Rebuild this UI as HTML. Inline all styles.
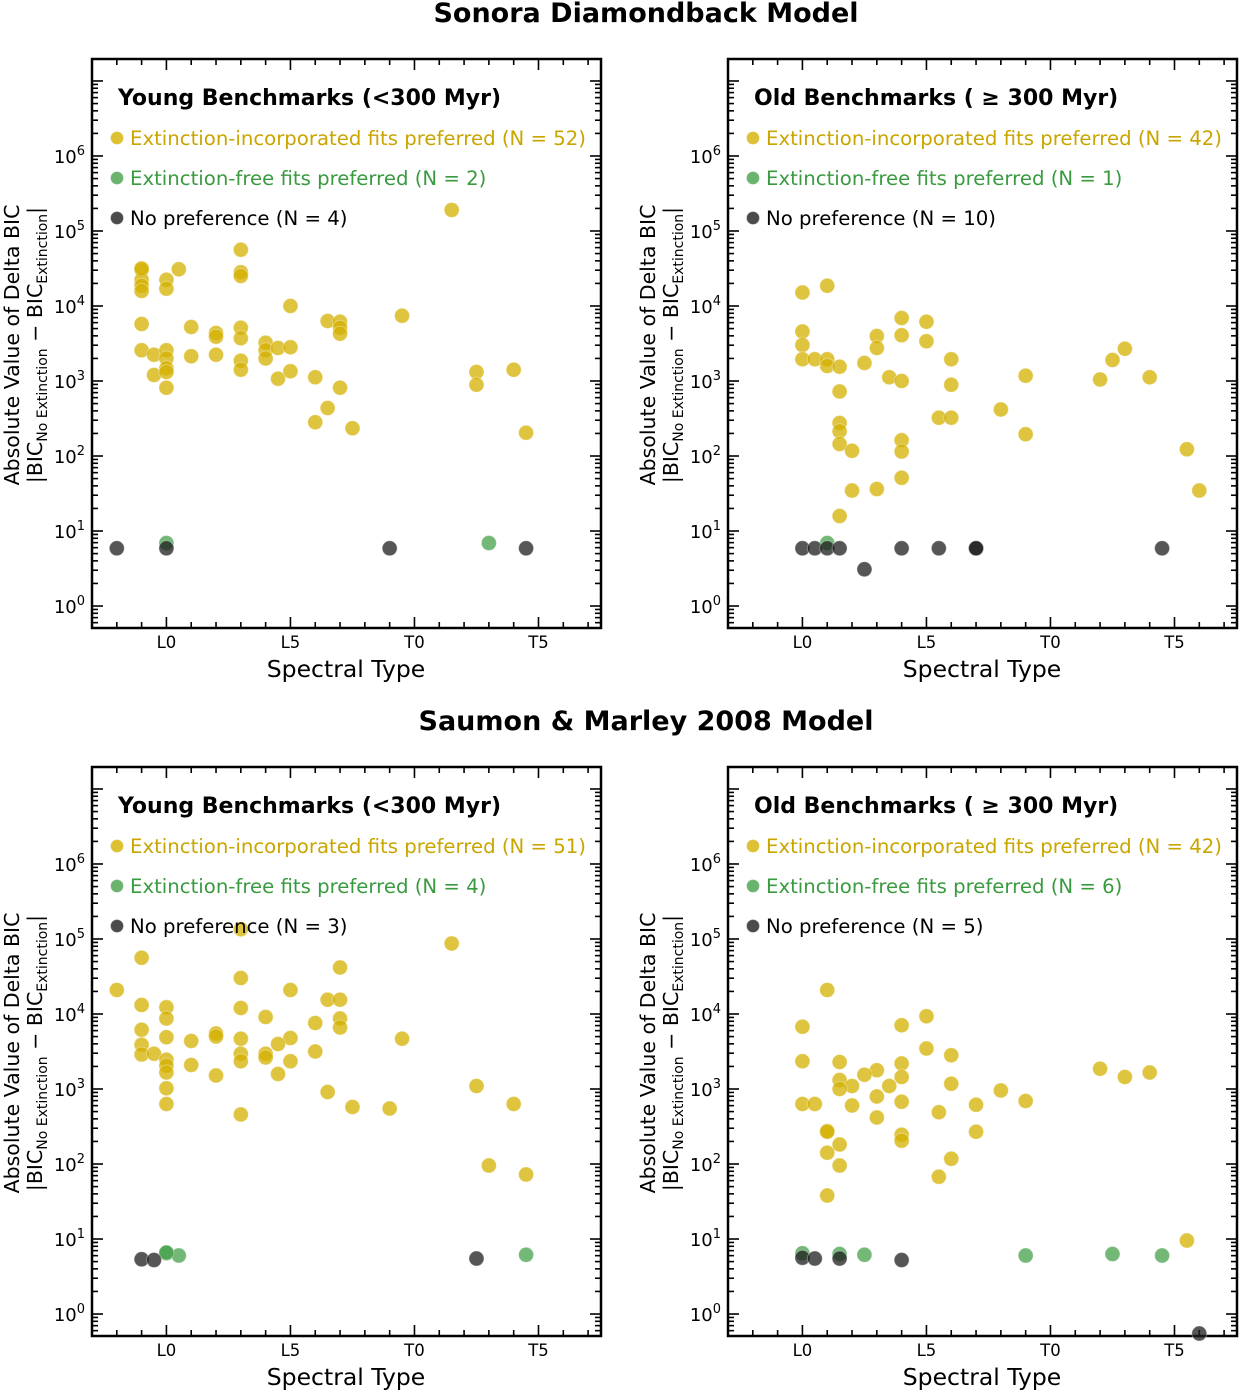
<!DOCTYPE html>
<html><head><meta charset="utf-8">
<style>
html,body{margin:0;padding:0;background:#fff;}
svg{display:block;font-family:"DejaVu Sans","Liberation Sans",sans-serif;}
</style></head>
<body>
<svg id="chart" width="1240" height="1390" viewBox="0 0 1240 1390" xmlns="http://www.w3.org/2000/svg">
<text x="646" y="22" text-anchor="middle" font-size="27" font-weight="bold">Sonora Diamondback Model</text>
<text x="646" y="730" text-anchor="middle" font-size="27" font-weight="bold">Saumon &amp; Marley 2008 Model</text>
</svg>
<script>
// Spectral type numeric: L0=0, L5=5, T0=10, T5=15 ; values as log10(|delta BIC|)
const xTickLabels = ["L0","L5","T0","T5"];
const xTickValues = [0,5,10,15];
const yTickExps = [0,1,2,3,4,5,6];

// Panel 1: Sonora, young
const p1YellowX = [-1,-1,-1,-1,-1,-1,-0.5,-0.5,0,0,0,0,0,0,0,0.5,1,1,2,2,2,3,3,3,3,3,3,3,4,4,4,4.5,4.5,5,5,5,6,6,6.5,6.5,7,7,7,7,7.5,9.5,11.5,12.5,12.5,14,14.5,-1];
const p1YellowY = [4.48,4.35,4.27,4.2,3.76,3.41,3.35,3.08,4.35,4.23,3.41,3.3,3.17,3.12,2.91,4.49,3.72,3.33,3.64,3.59,3.35,4.75,4.45,4.4,3.71,3.57,3.27,3.15,3.51,3.41,3.3,3.44,3.03,4.0,3.45,3.13,3.05,2.45,3.8,2.64,3.79,3.71,3.63,2.91,2.37,3.87,5.28,3.12,2.95,3.15,2.31,4.5];
const p1GreenX = [0,13];
const p1GreenY = [0.84,0.84];
const p1BlackX = [-2,0,9,14.5];
const p1BlackY = [0.77,0.77,0.77,0.77];

// Panel 2: Sonora, old
const p2YellowX = [0,1,0,0,0,0.5,1,1,1.5,2.5,3,3,3.5,4,4,4,5,5,6,6,1.5,1.5,1.5,1.5,2,5.5,6,8,9,9,4,4,4,3,2,1.5,12,12.5,13,14,15.5,16];
const p2YellowY = [4.18,4.27,3.66,3.48,3.29,3.29,3.29,3.2,3.19,3.24,3.6,3.44,3.05,3.84,3.61,3.0,3.79,3.53,3.29,2.95,2.86,2.44,2.33,2.16,2.07,2.51,2.51,2.62,3.07,2.29,2.21,2.06,1.71,1.56,1.54,1.2,3.02,3.28,3.43,3.05,2.09,1.54];
const p2GreenX = [1];
const p2GreenY = [0.84];
const p2BlackX = [0,0.5,1,1.5,4,5.5,7,7,14.5,2.5];
const p2BlackY = [0.77,0.77,0.77,0.77,0.77,0.77,0.77,0.77,0.77,0.49];

// Panel 3: SM08, young
const p3YellowX = [3,11.5,-1,7,3,-2,5,6.5,7,-1,0,3,0,4,7,6,7,-1,2,2,0,3,5,1,9.5,4.5,-1,-1,-0.5,3,4,4,6,0,0,0,3,5,1,4.5,2,0,0,3,6.5,7.5,9,12.5,14,13,14.5];
const p3YellowY = [5.13,4.94,4.75,4.62,4.48,4.32,4.32,4.19,4.19,4.12,4.09,4.08,3.94,3.96,3.94,3.88,3.82,3.79,3.74,3.7,3.69,3.67,3.68,3.64,3.67,3.6,3.59,3.46,3.47,3.47,3.47,3.42,3.5,3.39,3.31,3.22,3.37,3.37,3.32,3.2,3.18,3.01,2.8,2.66,2.96,2.76,2.74,3.04,2.8,1.98,1.86];
const p3GreenX = [0,0.5,14.5,0];
const p3GreenY = [0.81,0.78,0.79,0.82];
const p3BlackX = [-1,-0.5,12.5];
const p3BlackY = [0.73,0.72,0.74];

// Panel 4: SM08, old
const p4YellowX = [1,0,5,4,5,6,0,1.5,4,3,2.5,1.5,4,2,3.5,1.5,6,8,0,0.5,2,3,4,9,7,3,5.5,7,1,1,4,4,1.5,1,1.5,6,5.5,1,12,13,14,15.5];
const p4YellowY = [4.32,3.83,3.97,3.85,3.54,3.45,3.37,3.36,3.34,3.25,3.19,3.12,3.16,3.04,3.04,3.0,3.07,2.98,2.8,2.8,2.78,2.9,2.83,2.84,2.79,2.62,2.69,2.43,2.44,2.43,2.39,2.31,2.26,2.15,1.98,2.07,1.83,1.58,3.27,3.16,3.22,0.98];
const p4GreenX = [0,1.5,2.5,9,12.5,14.5];
const p4GreenY = [0.81,0.8,0.79,0.78,0.8,0.78];
const p4BlackX = [0,0.5,1.5,4,16];
const p4BlackY = [0.75,0.74,0.74,0.72,-0.26];

const NS = "http://www.w3.org/2000/svg";
const svg = document.getElementById('chart');
const YEL = "#d4b000", GRN = "#44a04a", BLK = "#1e1e1e";

function mk(tag, attrs, parent){
  const e = document.createElementNS(NS, tag);
  for (const k in attrs) e.setAttribute(k, attrs[k]);
  (parent||svg).appendChild(e);
  return e;
}

const panels = [
  {L:92, T:59, title:"Young Benchmarks (<300 Myr)", n:[52,2,4], d:[p1YellowX,p1YellowY,p1GreenX,p1GreenY,p1BlackX,p1BlackY], id:"sonora-young"},
  {L:728, T:59, title:"Old Benchmarks ( \u2265 300 Myr)", n:[42,1,10], d:[p2YellowX,p2YellowY,p2GreenX,p2GreenY,p2BlackX,p2BlackY], id:"sonora-old"},
  {L:92, T:767, title:"Young Benchmarks (<300 Myr)", n:[51,4,3], d:[p3YellowX,p3YellowY,p3GreenX,p3GreenY,p3BlackX,p3BlackY], id:"sm08-young"},
  {L:728, T:767, title:"Old Benchmarks ( \u2265 300 Myr)", n:[42,6,5], d:[p4YellowX,p4YellowY,p4GreenX,p4GreenY,p4BlackX,p4BlackY], id:"sm08-old"}
];

const W = 509, H = 569;
const XMIN = -3, XMAX = 17.52;
const YMIN = -0.293, YMAX = 7.293;

panels.forEach(p => {
  const g = mk('g', {});
  
  
  const sx = v => p.L + (v - XMIN) / (XMAX - XMIN) * W;
  const sy = v => p.T + H - (v - YMIN) / (YMAX - YMIN) * H;
  const B = p.T + H, R = p.L + W;

  const tk = mk('g', {stroke:"#000", "stroke-width":"1.6"}, g);
  
  
  for (let i = -2; i <= 17; i++) {
    const x = sx(i), len = (i % 5 === 0) ? 11 : 6;
    mk('line', {x1:x, y1:B, x2:x, y2:B-len}, tk);
    mk('line', {x1:x, y1:p.T, x2:x, y2:p.T+len}, tk);
  }
  for (let e = -1; e <= 7; e++) {
    for (let m = 1; m <= 9; m++) {
      const v = e + Math.log10(m);
      if (v < YMIN || v > YMAX) continue;
      const y = sy(v), len = m === 1 ? 11 : 6;
      mk('line', {x1:p.L, y1:y, x2:p.L+len, y2:y}, tk);
      mk('line', {x1:R, y1:y, x2:R-len, y2:y}, tk);
    }
  }
  const fr = mk('rect', {x:p.L, y:p.T, width:W, height:H, fill:"none", stroke:"#000", "stroke-width":"2.5"}, g);
  
  

  yTickExps.forEach(e => {
    const t = mk('text', {x:p.L-7, y:sy(e)+7, "text-anchor":"end", "font-size":"18"}, g);
    
    
    t.appendChild(document.createTextNode('10'));
    const s = mk('tspan', {dy:"-8", "font-size":"13"}, t);
    s.textContent = e;
  });
  xTickValues.forEach((v, i) => {
    const t = mk('text', {x:sx(v), y:B+20, "text-anchor":"middle", "font-size":"16.5"}, g);
    
    
    t.textContent = xTickLabels[i];
  });
  const xl = mk('text', {x:p.L+254, y:B+49, "text-anchor":"middle", "font-size":"23.5"}, g);
  
  
  xl.textContent = "Spectral Type";

  const cy = p.T + 286;
  const yl1 = mk('text', {x:0, y:0, "text-anchor":"middle", "font-size":"20.5", transform:`translate(${p.L-73},${cy}) rotate(-90)`}, g);
  
  
  yl1.textContent = "Absolute Value of Delta BIC";
  const yl2 = mk('text', {x:0, y:0, "text-anchor":"middle", "font-size":"20.5", transform:`translate(${p.L-50},${cy}) rotate(-90)`}, g);
  
  
  yl2.innerHTML = '|BIC<tspan font-size="14" dy="5">No Extinction</tspan><tspan dy="-5"> \u2212 BIC</tspan><tspan font-size="14" dy="5">Extinction</tspan><tspan dy="-5">|</tspan>';

  const series = [[p.d[0],p.d[1],YEL,'extinction-incorporated-point'],[p.d[2],p.d[3],GRN,'extinction-free-point'],[p.d[4],p.d[5],BLK,'no-preference-point']];
  series.forEach(s => {
    const xs = s[0], ys = s[1];
    for (let i = 0; i < xs.length; i++) {
      const c = mk('circle', {cx:sx(xs[i]), cy:sy(ys[i]), r:7.5, fill:s[2], "fill-opacity":"0.75", stroke:"#fff", "stroke-opacity":"0.35", "stroke-width":"1"}, g);
      
      
    }
  });

  const pt = mk('text', {x:p.L+26, y:p.T+46, "font-size":"22", "font-weight":"bold"}, g);
  
  
  pt.textContent = p.title;
  const leg = [["Extinction-incorporated fits preferred (N = "+p.n[0]+")", YEL, "#c9a500"],
               ["Extinction-free fits preferred (N = "+p.n[1]+")", GRN, "#3a9a40"],
               ["No preference (N = "+p.n[2]+")", BLK, "#000"]];
  leg.forEach((l, i) => {
    const y = p.T + 79 + i*40;
    const lg = mk('g', {}, g);
    
    
    mk('circle', {cx:p.L+25, cy:y, r:6.5, fill:l[1], "fill-opacity":"0.8", stroke:"#fff", "stroke-opacity":"0.35"}, lg);
    const t = mk('text', {x:p.L+38, y:y+7, "font-size":"19.7", fill:l[2]}, lg);
    t.textContent = l[0];
  });
});
</script>
</body></html>
